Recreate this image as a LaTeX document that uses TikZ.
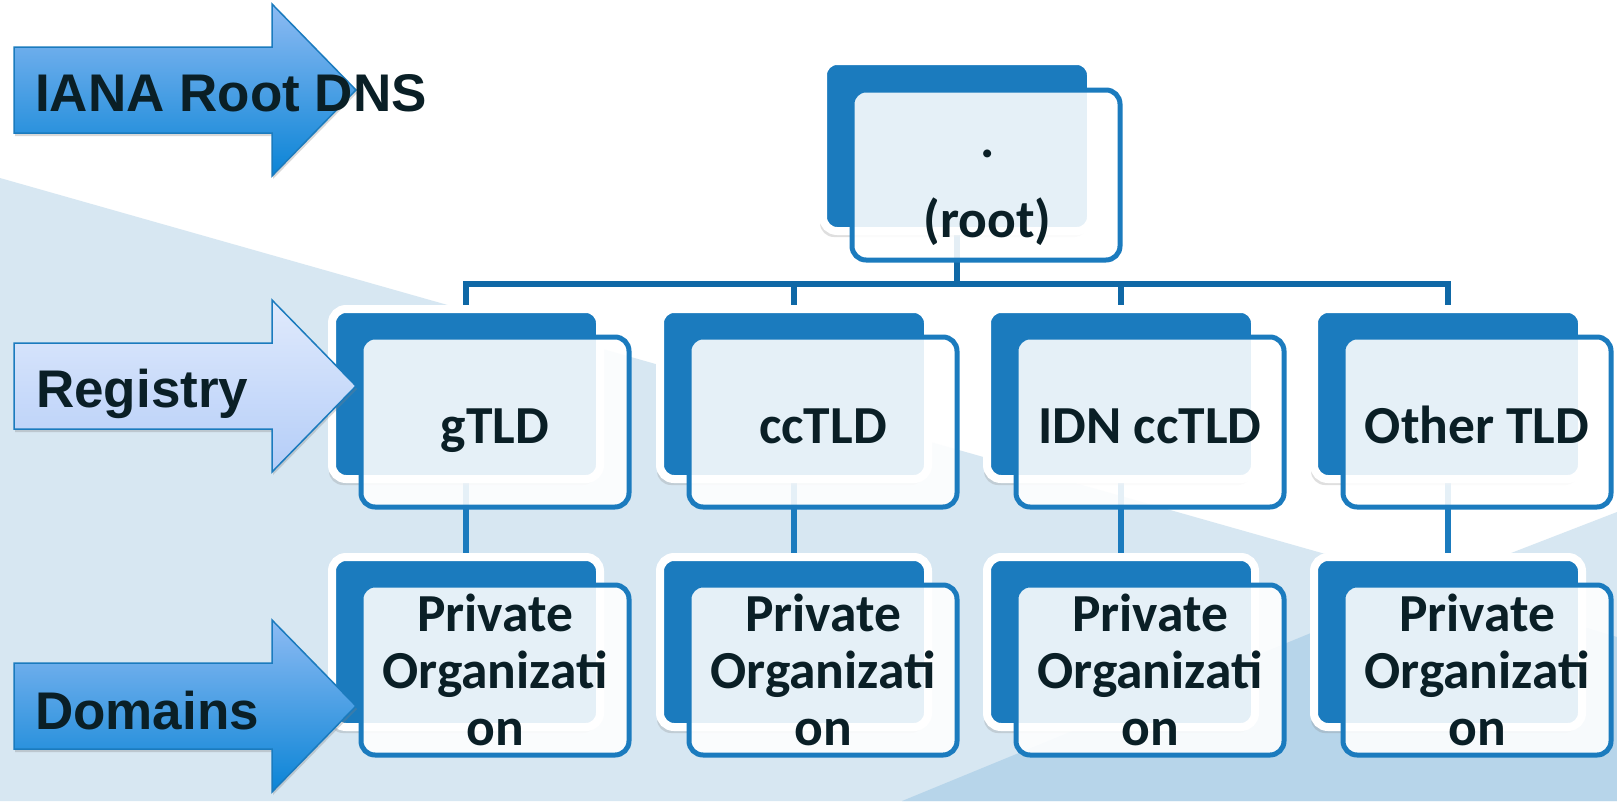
\documentclass[tikz,border=0pt]{standalone}
\usepackage{fontspec}
\setmainfont{Carlito}
\newfontfamily\labelfont{Liberation Sans}
\usetikzlibrary{shadows,backgrounds}
\definecolor{boxblue}{HTML}{1B7BBE}
\definecolor{busblue}{HTML}{0F68A6}
\definecolor{inkdark}{HTML}{0A1F26}
\definecolor{paleground}{HTML}{D7E7F2}
\definecolor{deepground}{HTML}{B7D5EA}
\definecolor{strongtop}{HTML}{8DBBF3}
\definecolor{strongend}{HTML}{0A84D6}
\definecolor{paletop}{HTML}{E0EAFC}
\definecolor{paleend}{HTML}{B4CDF8}
\tikzset{
  backbox/.style={rounded corners=14pt,draw=white,line width=8pt,fill=boxblue,inner sep=0pt,
    minimum width=268pt,minimum height=170pt,
    drop shadow={shadow xshift=-3pt,shadow yshift=-6pt,opacity=.25}},
  frontbox/.style={rounded corners=14pt,draw=boxblue,line width=5pt,fill=white,fill opacity=.89,text opacity=1,
    inner sep=0pt,minimum width=268pt,minimum height=170pt,align=center,text=inkdark,
    font=\fontsize{53.5}{57}\selectfont\bfseries},
  tagarrow/.style={draw=boxblue,line width=1.5pt,
    drop shadow={shadow xshift=1pt,shadow yshift=-3pt,opacity=.3}},
  strongtag/.style={tagarrow,top color=strongtop,bottom color=strongend},
  paletag/.style={tagarrow,top color=paletop,bottom color=paleend},
  taglabel/.style={anchor=base west,inner sep=0pt,text=inkdark,font=\fontsize{53}{60}\selectfont\labelfont\bfseries},
  tierline/.style={draw=boxblue,line width=6pt},
  busline/.style={draw=busblue,line width=5.5pt}
}
\begin{document}
\begin{tikzpicture}[x=1pt,y=-1pt]
\useasboundingbox (0,0) rectangle (1617,801);

\node[backbox] (rootback) at (957,146) {};
\coordinate (bus) at (957,284);
\begin{scope}[on background layer]
  \fill[white] (0,0) rectangle (1617,801);
  \fill[paleground] (0,178) -- (1431,584) -- (1617,512) -- (1617,801) -- (0,801) -- cycle;
  \fill[deepground] (902,801) -- (1435,582) -- (1617,637) -- (1617,801) -- cycle;
  \draw[busline] (rootback.south) -- (bus);
\end{scope}
\foreach \n/\x in {g/466,cc/794,idn/1121,other/1448} {
  \node[backbox] (\n back) at (\x,394) {};
  \node[backbox] (\n orgback) at (\x,642) {};
  \begin{scope}[on background layer]
    \draw[busline] (bus) -| (\n back.north);
    \draw[tierline] (\n back.south) -- (\n orgback.north);
  \end{scope}
}

\node[frontbox,xshift=29pt,yshift=-29pt] (rootfront) at (rootback) {\rule{0pt}{53pt}\hspace{3pt}.\\[23pt]\hspace{3pt}(root)};
\foreach \n/\t in {g/gTLD,cc/ccTLD,idn/IDN ccTLD,other/Other TLD} {
  \node[frontbox,xshift=29pt,yshift=-28pt] (\n front) at (\n back) {\rule[-11pt]{0pt}{65pt}\t};
  \node[frontbox,xshift=29pt,yshift=-28pt] (\n orgfront) at (\n orgback) {Private\\Organizati\\on};
}

\foreach \s/\y in {strongtag/90,paletag/386,strongtag/706} {
  \path[\s,shift={(0,\y)}] (14,-43) -- (272,-43) -- (272,-86) -- (356,0) -- (272,86) -- (272,43) -- (14,43) -- cycle;
}
\node[taglabel] (ianalabel) at (35,111) {IANA Root DNS};
\node[taglabel] (reglabel) at (36,407) {Registry};
\node[taglabel] (domlabel) at (35,729) {Domains};
\end{tikzpicture}
\end{document}
